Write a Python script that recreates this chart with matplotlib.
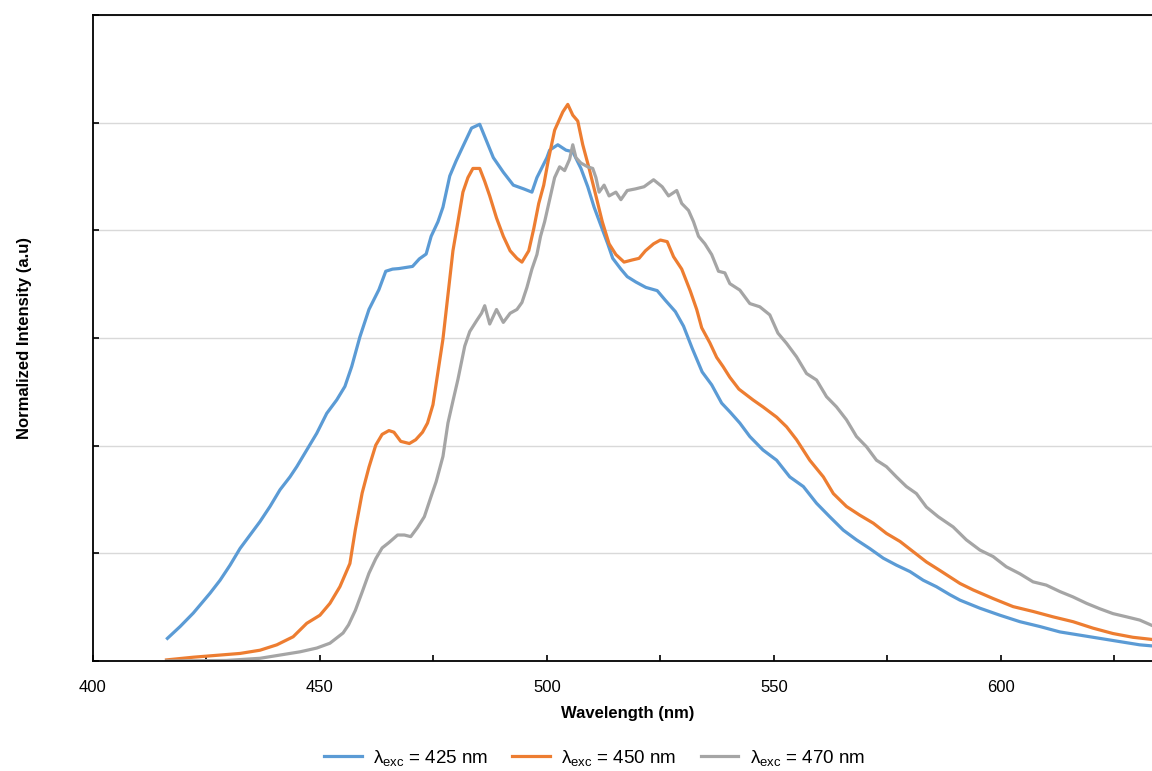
import numpy as np
import matplotlib
matplotlib.use("Agg")
import matplotlib.pyplot as plt
from matplotlib.ticker import MultipleLocator

plt.rcParams['font.family'] = ['Liberation Sans', 'DejaVu Sans']
plt.rcParams['mathtext.fontset'] = 'custom'
plt.rcParams['mathtext.rm'] = 'Liberation Sans'
plt.rcParams['mathtext.it'] = 'Liberation Sans:italic'

# emission spectra (wavelength nm, normalized intensity)
wl_425 = [416.4, 419.2, 422.1, 423.6, 425.8, 428.0, 430.2, 432.4, 434.6, 436.8,
          439.0, 441.2, 443.4, 444.9, 447.1, 449.3, 451.5, 453.7, 455.5, 457.0,
          458.8, 460.8, 463.0, 464.5, 466.0, 467.4, 468.9, 470.4, 471.9, 473.4,
          474.5, 476.0, 477.1, 478.6, 480.0, 481.5, 483.4, 485.2, 486.7, 488.2,
          490.4, 492.6, 494.9, 496.7, 497.8, 500.0, 500.6, 502.4, 504.2, 505.7,
          507.5, 509.0, 510.4, 511.9, 513.4, 514.5, 516.3, 517.7, 519.6, 521.8,
          524.3, 526.1, 528.3, 530.1, 532.0, 534.2, 536.3, 538.5, 540.4, 542.5,
          544.7, 547.6, 550.6, 553.5, 556.5, 559.4, 562.3, 565.3, 568.2, 571.1,
          574.1, 577.0, 580.0, 582.9, 585.8, 588.8, 591.0, 595.4, 599.8, 604.2,
          608.6, 613.0, 617.4, 621.8, 626.2, 630.6, 633.3]
int_425 = [0.042, 0.064, 0.089, 0.104, 0.126, 0.150, 0.178, 0.209, 0.234, 0.259,
           0.287, 0.318, 0.342, 0.361, 0.392, 0.423, 0.460, 0.485, 0.510, 0.547,
           0.602, 0.653, 0.690, 0.724, 0.728, 0.729, 0.731, 0.733, 0.747, 0.756,
           0.789, 0.816, 0.843, 0.901, 0.929, 0.956, 0.990, 0.997, 0.966, 0.935,
           0.908, 0.884, 0.877, 0.871, 0.898, 0.935, 0.949, 0.959, 0.949, 0.946,
           0.915, 0.881, 0.843, 0.809, 0.775, 0.748, 0.728, 0.714, 0.704, 0.694,
           0.688, 0.670, 0.649, 0.622, 0.581, 0.537, 0.513, 0.479, 0.462, 0.442,
           0.417, 0.392, 0.373, 0.342, 0.324, 0.293, 0.268, 0.243, 0.225, 0.209,
           0.191, 0.178, 0.166, 0.150, 0.138, 0.123, 0.113, 0.098, 0.085, 0.073,
           0.064, 0.054, 0.048, 0.042, 0.036, 0.030, 0.028]

wl_450 = [416.2, 422.1, 428.0, 432.4, 436.8, 440.5, 444.1, 447.1, 450.0, 452.2,
          454.4, 456.6, 457.8, 459.3, 460.8, 462.3, 463.7, 465.2, 466.3, 467.8,
          469.7, 471.1, 472.6, 473.7, 474.9, 476.0, 477.1, 478.2, 479.3, 480.4,
          481.5, 482.6, 483.7, 485.2, 486.3, 487.4, 488.9, 490.4, 491.9, 493.4,
          494.5, 496.0, 497.1, 498.2, 499.3, 500.3, 501.7, 503.5, 504.6, 505.7,
          506.8, 507.9, 509.3, 510.8, 512.2, 513.7, 515.2, 517.0, 518.8, 520.3,
          521.7, 523.5, 525.0, 526.5, 527.9, 529.7, 531.6, 533.0, 534.1, 535.9,
          537.4, 538.8, 540.3, 542.3, 545.4, 547.6, 550.6, 552.8, 555.0, 557.9,
          560.9, 563.1, 566.0, 568.9, 571.9, 574.8, 577.8, 580.7, 583.6, 586.6,
          591.0, 593.9, 598.3, 602.7, 607.1, 611.5, 615.9, 620.3, 624.7, 629.1,
          633.3]
int_450 = [0.002, 0.007, 0.011, 0.014, 0.020, 0.030, 0.045, 0.070, 0.085, 0.107,
           0.138, 0.181, 0.244, 0.312, 0.360, 0.401, 0.421, 0.428, 0.425, 0.408,
           0.404, 0.411, 0.425, 0.442, 0.476, 0.537, 0.598, 0.680, 0.762, 0.816,
           0.871, 0.898, 0.915, 0.915, 0.891, 0.864, 0.823, 0.789, 0.762, 0.748,
           0.741, 0.762, 0.803, 0.850, 0.884, 0.930, 0.986, 1.020, 1.034, 1.014,
           1.003, 0.959, 0.915, 0.864, 0.816, 0.775, 0.755, 0.741, 0.745, 0.748,
           0.762, 0.775, 0.782, 0.779, 0.751, 0.728, 0.687, 0.653, 0.619, 0.591,
           0.564, 0.547, 0.527, 0.505, 0.485, 0.472, 0.453, 0.435, 0.411, 0.373,
           0.342, 0.311, 0.287, 0.271, 0.256, 0.237, 0.222, 0.203, 0.184, 0.168,
           0.144, 0.132, 0.116, 0.101, 0.092, 0.082, 0.073, 0.061, 0.051, 0.044,
           0.040]

wl_470 = [416.2, 429.4, 436.8, 441.2, 445.6, 449.3, 452.2, 455.1, 456.3, 457.8,
          459.3, 460.8, 462.3, 463.7, 465.2, 467.1, 468.6, 470.0, 471.5, 473.0,
          474.5, 475.6, 477.1, 478.2, 479.3, 480.4, 481.9, 483.0, 484.5, 485.6,
          486.3, 487.4, 488.9, 490.4, 491.9, 493.4, 494.5, 495.6, 496.7, 497.8,
          498.6, 499.5, 500.6, 501.7, 502.8, 503.9, 505.0, 505.7, 506.4, 507.5,
          509.0, 510.1, 510.8, 511.5, 512.6, 513.7, 515.2, 516.3, 517.7, 519.5,
          521.4, 523.5, 525.4, 526.8, 528.6, 529.7, 531.2, 532.3, 533.4, 534.8,
          536.3, 537.8, 539.2, 540.3, 542.5, 544.7, 546.9, 549.1, 550.9, 552.8,
          555.0, 557.2, 559.4, 561.6, 563.8, 566.0, 568.2, 570.4, 572.6, 574.8,
          577.0, 579.2, 581.4, 583.6, 586.2, 589.5, 592.4, 595.4, 598.3, 601.2,
          604.2, 607.1, 610.0, 613.0, 615.9, 618.9, 621.8, 624.7, 627.7, 630.6,
          633.3]
int_470 = [0.000, 0.001, 0.005, 0.011, 0.017, 0.024, 0.033, 0.052, 0.067, 0.094,
           0.128, 0.163, 0.190, 0.210, 0.220, 0.234, 0.234, 0.231, 0.248, 0.268,
           0.306, 0.333, 0.380, 0.442, 0.483, 0.523, 0.585, 0.612, 0.632, 0.646,
           0.660, 0.626, 0.653, 0.629, 0.646, 0.653, 0.666, 0.694, 0.728, 0.755,
           0.789, 0.816, 0.857, 0.898, 0.918, 0.911, 0.932, 0.959, 0.935, 0.925,
           0.918, 0.915, 0.898, 0.871, 0.884, 0.864, 0.871, 0.857, 0.874, 0.877,
           0.881, 0.894, 0.881, 0.864, 0.874, 0.850, 0.837, 0.816, 0.789, 0.775,
           0.755, 0.724, 0.721, 0.701, 0.689, 0.664, 0.658, 0.643, 0.609, 0.590,
           0.565, 0.534, 0.522, 0.491, 0.472, 0.448, 0.417, 0.398, 0.373, 0.361,
           0.342, 0.324, 0.311, 0.286, 0.268, 0.249, 0.225, 0.206, 0.194, 0.175,
           0.162, 0.147, 0.141, 0.129, 0.119, 0.107, 0.097, 0.088, 0.082, 0.076,
           0.066]

labels = [r"λ$_{\mathrm{exc}}$ = 425 nm", r"λ$_{\mathrm{exc}}$ = 450 nm",
          r"λ$_{\mathrm{exc}}$ = 470 nm"]
colors = ["#5B9BD5", "#ED7D31", "#A5A5A5"]


def main():
    fig = plt.figure(figsize=(11.52, 7.71), dpi=100)
    ax = fig.add_axes([0.0807, 0.1427, 0.9193, 0.8378])

    lw = 2.3
    ax.plot(wl_425, int_425, color=colors[0], lw=lw, label=labels[0])
    ax.plot(wl_450, int_450, color=colors[1], lw=lw, label=labels[1])
    ax.plot(wl_470, int_470, color=colors[2], lw=lw, label=labels[2])

    ax.set_xlim(400, 633.3)
    ax.set_ylim(0, 1.2)
    ax.xaxis.set_major_locator(MultipleLocator(50))
    ax.xaxis.set_minor_locator(MultipleLocator(25))
    ax.yaxis.set_major_locator(MultipleLocator(0.2))
    ax.set_yticklabels([])
    ax.tick_params(axis="both", which="both", direction="in", length=4,
                   width=1.2, color="black", labelsize=12, pad=13.5)
    ax.tick_params(axis="y", which="both", length=4, labelleft=False)
    ax.grid(axis="y", color="#D9D9D9", lw=1.0)
    ax.set_axisbelow(True)

    for side in ["left", "bottom", "top"]:
        ax.spines[side].set_linewidth(1.3)
        ax.spines[side].set_color("black")
    ax.spines["right"].set_visible(False)

    ax.set_xlabel("Wavelength (nm)", fontsize=12, fontweight="bold")
    ax.xaxis.set_label_coords(0.505, -0.069)
    ax.set_ylabel("Normalized Intensity (a.u)", fontsize=12, fontweight="bold")
    ax.yaxis.set_label_coords(-0.058, 0.5)

    fig.legend(loc="center", bbox_to_anchor=(0.516, 0.017), ncol=3,
               frameon=False, fontsize=13.5, handlelength=2.0,
               handletextpad=0.6, columnspacing=1.3)

    fig.savefig("out.png", dpi=100)


if __name__ == "__main__":
    main()
